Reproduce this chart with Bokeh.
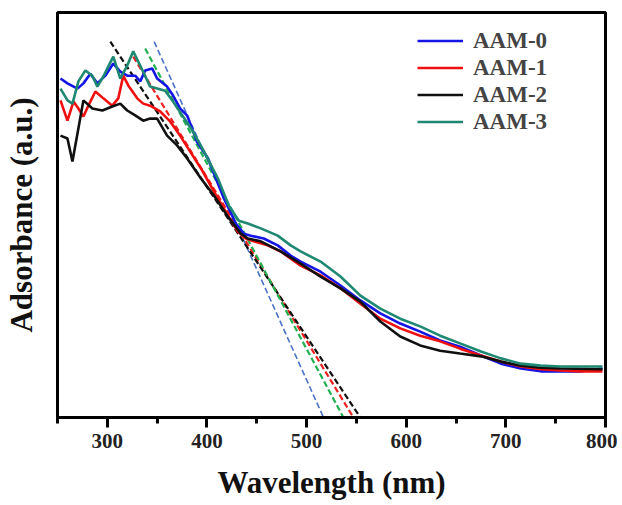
from bokeh.plotting import figure
from bokeh.models import FixedTicker, Range1d, Legend, LegendItem
from bokeh.embed import file_html
from bokeh.resources import INLINE

# ---- data (wavelength nm, absorbance a.u.) ----
aam0_x = [253, 260, 270, 276, 283, 290, 298, 306, 313, 320, 328, 333, 338, 345, 350, 360, 366, 373, 380, 385, 390, 401, 409, 417, 429, 437, 444, 457, 471, 484, 494, 514, 534, 554, 574, 594, 614, 634, 654, 675, 695, 715, 735, 755, 775, 797]
aam0_y = [.837, .825, .812, .825, .849, .825, .844, .874, .854, .844, .844, .830, .857, .862, .837, .817, .795, .763, .746, .714, .681, .640, .590, .541, .479, .454, .449, .442, .425, .400, .385, .360, .326, .289, .257, .232, .212, .190, .175, .153, .133, .121, .114, .114, .114, .121]

aam1_x = [253, 260, 266, 271, 276, 281, 288, 296, 305, 311, 316, 321, 330, 336, 343, 353, 363, 373, 383, 394, 407, 421, 431, 439, 447, 461, 474, 494, 514, 534, 554, 574, 594, 614, 634, 654, 675, 695, 715, 735, 755, 775, 797]
aam1_y = [.783, .733, .780, .763, .743, .770, .805, .788, .770, .788, .844, .820, .788, .775, .770, .756, .731, .696, .657, .615, .558, .499, .459, .442, .435, .425, .410, .375, .351, .319, .281, .244, .220, .202, .188, .170, .153, .138, .126, .119, .116, .114, .114]

aam2_x = [253, 260, 265, 271, 276, 285, 295, 305, 313, 320, 328, 336, 343, 350, 360, 370, 380, 394, 407, 421, 434, 441, 454, 474, 494, 514, 534, 554, 574, 594, 614, 634, 654, 675, 695, 715, 735, 755, 797]
aam2_y = [.696, .689, .632, .714, .783, .763, .758, .768, .775, .758, .746, .733, .738, .738, .696, .672, .640, .590, .548, .496, .454, .442, .435, .410, .380, .348, .319, .286, .237, .200, .178, .165, .158, .151, .138, .128, .123, .121, .119]

aam3_x = [253, 260, 265, 271, 278, 285, 290, 296, 301, 306, 313, 320, 326, 333, 343, 358, 366, 376, 386, 397, 411, 422, 432, 441, 454, 471, 484, 494, 514, 534, 554, 574, 594, 614, 634, 654, 675, 695, 715, 735, 755, 775, 797]
aam3_y = [.812, .783, .775, .830, .857, .844, .817, .842, .867, .891, .837, .869, .904, .869, .817, .807, .780, .743, .706, .657, .590, .523, .486, .479, .467, .449, .425, .410, .385, .348, .301, .269, .244, .225, .202, .183, .163, .146, .133, .128, .126, .126, .126]

# tangent (extrapolation) lines: start / end points
tan_x0 = [347, 326, 303, 338]
tan_y0 = [.928, .891, .928, .911]
tan_x1 = [517, 547, 554, 537]
tan_y1 = [0.0, 0.0, 0.0, 0.0]

names = ["AAM-0", "AAM-1", "AAM-2", "AAM-3"]
x_ticks = [300, 400, 500, 600, 700, 800]
x_minor = [250, 350, 450, 550, 650, 750]

colors = ["#1414E6", "#F01010", "#101010", "#1E8872"]
dash_colors = ["#4A72C8", "#F02020", "#101010", "#20B050"]
dash_widths = [1.6, 2.2, 2.2, 2.2]

p = figure(frame_width=548, frame_height=405, output_backend="svg",
           toolbar_location=None, x_range=Range1d(250, 800), y_range=Range1d(0, 1),
           min_border_left=10, min_border_top=12, min_border_right=12, min_border_bottom=8)
p.grid.visible = False
p.background_fill_color = "white"
p.outline_line_color = "black"
p.outline_line_width = 3

# tangent lines
for i in range(4):
    p.line([tan_x0[i], tan_x1[i]], [tan_y0[i], tan_y1[i]], line_color=dash_colors[i],
           line_width=dash_widths[i], line_dash="6 3")

renderers = []
for xs, ys, c in zip([aam0_x, aam1_x, aam2_x, aam3_x], [aam0_y, aam1_y, aam2_y, aam3_y], colors):
    r = p.line(xs, ys, line_color=c, line_width=2.6)
    renderers.append(r)

legend = Legend(items=[LegendItem(label=n, renderers=[r]) for n, r in zip(names, renderers)],
                location=(360, 282))
legend.border_line_color = None
legend.background_fill_alpha = 0
legend.padding = 0
legend.margin = 0
legend.spacing = 0
legend.glyph_width = 46
legend.glyph_height = 27
legend.label_height = 27
legend.label_standoff = 10
legend.label_text_font = "Liberation Serif"
legend.label_text_font_style = "bold"
legend.label_text_font_size = "23px"
p.add_layout(legend)

# x axis
xa = p.xaxis[0]
xa.ticker = FixedTicker(ticks=x_ticks, minor_ticks=x_minor)
xa.axis_line_width = 3
xa.major_tick_line_width = 3
xa.minor_tick_line_width = 3
xa.major_tick_in = 0
xa.major_tick_out = 10
xa.minor_tick_in = 0
xa.minor_tick_out = 6
xa.major_label_text_font = "Liberation Serif"
xa.major_label_text_font_style = "bold"
xa.major_label_text_font_size = "21px"
xa.major_label_text_color = "#222222"
xa.major_label_standoff = 6
xa.axis_label = "Wavelength (nm)"
xa.axis_label_text_font = "Liberation Serif"
xa.axis_label_text_font_style = "bold"
xa.axis_label_text_font_size = "31px"
xa.axis_label_text_color = "#111111"
xa.axis_label_standoff = 14

# y axis (no ticks)
ya = p.yaxis[0]
ya.ticker = FixedTicker(ticks=[])
ya.axis_line_color = None
ya.major_tick_line_color = None
ya.minor_tick_line_color = None
ya.axis_label = "Adsorbance (a.u.)"
ya.axis_label_text_font = "Liberation Serif"
ya.axis_label_text_font_style = "bold"
ya.axis_label_text_font_size = "31px"
ya.axis_label_text_color = "#111111"
ya.axis_label_standoff = 19

open("out.html", "w").write(file_html(p, INLINE))
